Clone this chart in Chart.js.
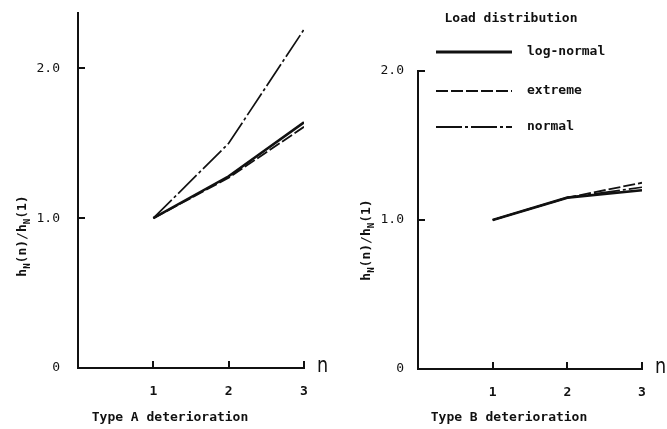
<!DOCTYPE html>
<html>
<head>
<meta charset="utf-8">
<script src="https://cdn.jsdelivr.net/npm/chart.js@4.4.1/dist/chart.umd.min.js"></script>
<style>
  html, body { margin: 0; padding: 0; background: #fff; }
  #wrap { position: relative; width: 667px; height: 429px; overflow: hidden; }
  .panel { position: absolute; top: 0; height: 429px; }
  #pA { left: 0; width: 340px; }
  #pB { left: 340px; width: 327px; }
</style>
</head>
<body>
<div id="wrap">
  <div class="panel" id="pA"><canvas id="cA"></canvas></div>
  <div class="panel" id="pB"><canvas id="cB"></canvas></div>
</div>
<script>
// Number of deterioration stages n
const stages = [1, 2, 3];
const xTickValues = [1, 2, 3];
const yTickValues = [0, 1, 2];

const seriesNames = ['log-normal', 'extreme', 'normal'];

// h_N(n)/h_N(1), type A deterioration
const typeA_logNormal = [1.0, 1.28, 1.64];
const typeA_extreme   = [1.0, 1.27, 1.61];
const typeA_normal    = [1.0, 1.50, 2.26];

// h_N(n)/h_N(1), type B deterioration
const typeB_logNormal = [1.0, 1.15, 1.20];
const typeB_extreme   = [1.0, 1.15, 1.25];
const typeB_normal    = [1.0, 1.15, 1.22];

const INK = '#111';
const MONO = '"DejaVu Sans Mono", "Liberation Mono", monospace';

// line styles per load distribution
const styles = {
  'log-normal': { borderWidth: 2.6, borderDash: [] },
  'extreme':    { borderWidth: 1.8, borderDash: [12, 3] },
  'normal':     { borderWidth: 1.7, borderDash: [26, 3, 3, 3] }
};

function makeDatasets(values) {
  return seriesNames.map((name, i) => ({
    label: name,
    data: stages.map((n, k) => ({ x: n, y: values[i][k] })),
    borderColor: INK,
    borderWidth: styles[name].borderWidth,
    borderDash: styles[name].borderDash,
    pointRadius: 0,
    tension: 0,
    fill: false
  }));
}

// draws the y-axis title h_N(n)/h_N(1) rotated, with subscripts
function drawYTitle(ctx, cx, cy) {
  const parts = [['h', 0], ['N', 1], ['(n)/h', 0], ['N', 1], ['(1)', 0]];
  const big = 'bold 13px ' + MONO, small = 'bold 9px ' + MONO;
  let total = 0;
  parts.forEach(p => { ctx.font = p[1] ? small : big; total += ctx.measureText(p[0]).width; });
  ctx.save();
  ctx.translate(cx, cy);
  ctx.rotate(-Math.PI / 2);
  ctx.fillStyle = INK;
  ctx.textBaseline = 'alphabetic';
  ctx.textAlign = 'left';
  let x = -total / 2;
  parts.forEach(p => {
    ctx.font = p[1] ? small : big;
    ctx.fillText(p[0], x, p[1] ? 8 : 4);
    x += ctx.measureText(p[0]).width;
  });
  ctx.restore();
}

// inward tick stubs, axis name "n", caption and optional legend
const decor = {
  id: 'decor',
  afterDraw(chart, args, opts) {
    const ctx = chart.ctx;
    const xs = chart.scales.x, ys = chart.scales.y;
    const x0 = xs.left, y0 = ys.bottom;
    ctx.save();
    ctx.strokeStyle = INK;
    ctx.lineWidth = 2;
    ctx.setLineDash([]);
    ctx.beginPath();
    xTickValues.forEach(v => {
      const px = Math.round(xs.getPixelForValue(v));
      ctx.moveTo(px, y0); ctx.lineTo(px, y0 - 7);
    });
    opts.yStubs.forEach(v => {
      const py = Math.round(ys.getPixelForValue(v));
      ctx.moveTo(x0, py); ctx.lineTo(x0 + 7, py);
    });
    ctx.stroke();

    ctx.fillStyle = INK;
    ctx.save();
    ctx.translate(xs.right + 13, y0 - 2);
    ctx.scale(0.8, 1);
    ctx.font = '22px "DejaVu Sans", sans-serif';
    ctx.textAlign = 'left';
    ctx.textBaseline = 'middle';
    ctx.fillText('n', 0, 0);
    ctx.restore();

    ctx.font = 'bold 13px ' + MONO;
    ctx.textAlign = 'center';
    ctx.textBaseline = 'middle';
    ctx.fillText(opts.caption, opts.captionX, 418);

    drawYTitle(ctx, opts.titleX, opts.titleY);

    if (opts.legend) {
      ctx.font = 'bold 13px ' + MONO;
      ctx.textAlign = 'center';
      ctx.fillText('Load distribution', 171, 19);
      const rows = [52, 91, 127];
      chart.data.datasets.forEach((ds, i) => {
        ctx.save();
        ctx.lineWidth = ds.borderWidth + 0.4;
        ctx.setLineDash(ds.borderDash);
        ctx.beginPath();
        ctx.moveTo(96, rows[i]); ctx.lineTo(172, rows[i]);
        ctx.stroke();
        ctx.restore();
        ctx.textAlign = 'left';
        ctx.fillText(ds.label, 187, rows[i]);
      });
    }
    ctx.restore();
  }
};

function noScalePadding(s) {
  s.paddingTop = 0; s.paddingBottom = 0; s.paddingLeft = 0; s.paddingRight = 0;
}

function makeChart(id, datasets, cfg) {
  return new Chart(document.getElementById(id), {
    type: 'line',
    data: { datasets },
    plugins: [decor],
    options: {
      responsive: true,
      maintainAspectRatio: false,
      animation: false,
      events: [],
      layout: { padding: { top: cfg.top, right: cfg.right, left: 0, bottom: 0 } },
      plugins: {
        legend: { display: false },
        tooltip: { enabled: false },
        decor: cfg.decor
      },
      scales: {
        x: {
          type: 'linear', min: 0, max: 3,
          afterFit: s => { s.height = cfg.xHeight; noScalePadding(s); },
          afterBuildTicks: s => { s.ticks = xTickValues.map(v => ({ value: v })); },
          grid: { display: true, drawOnChartArea: false, drawTicks: false, color: 'rgba(0,0,0,0)' },
          border: { display: true, color: INK, width: 2 },
          ticks: {
            padding: 16, color: INK, maxRotation: 0, autoSkip: false,
            font: { family: MONO, size: 13, weight: 'bold' },
            callback: v => String(v)
          }
        },
        y: {
          type: 'linear', min: 0, max: cfg.yMax,
          afterFit: s => { s.width = cfg.yWidth; noScalePadding(s); },
          afterBuildTicks: s => { s.ticks = yTickValues.map(v => ({ value: v })); },
          grid: { display: true, drawOnChartArea: false, drawTicks: false, color: 'rgba(0,0,0,0)' },
          border: { display: true, color: INK, width: 2 },
          ticks: {
            padding: cfg.yPad, color: INK, autoSkip: false,
            font: { family: MONO, size: 13 },
            callback: v => v === 0 ? '0' : v.toFixed(1)
          }
        }
      }
    }
  });
}

makeChart('cA', makeDatasets([typeA_logNormal, typeA_extreme, typeA_normal]), {
  top: 13, right: 36, xHeight: 61, yWidth: 78, yMax: 2.37, yPad: 18,
  decor: { yStubs: [1, 2], caption: 'Type A deterioration', captionX: 170,
           titleX: 22, titleY: 236, legend: false }
});

makeChart('cB', makeDatasets([typeB_logNormal, typeB_extreme, typeB_normal]), {
  top: 71, right: 25, xHeight: 60, yWidth: 78, yMax: 2.0, yPad: 14,
  decor: { yStubs: [1, 2], caption: 'Type B deterioration', captionX: 169,
           titleX: 26, titleY: 240, legend: true }
});
</script>
</body>
</html>
